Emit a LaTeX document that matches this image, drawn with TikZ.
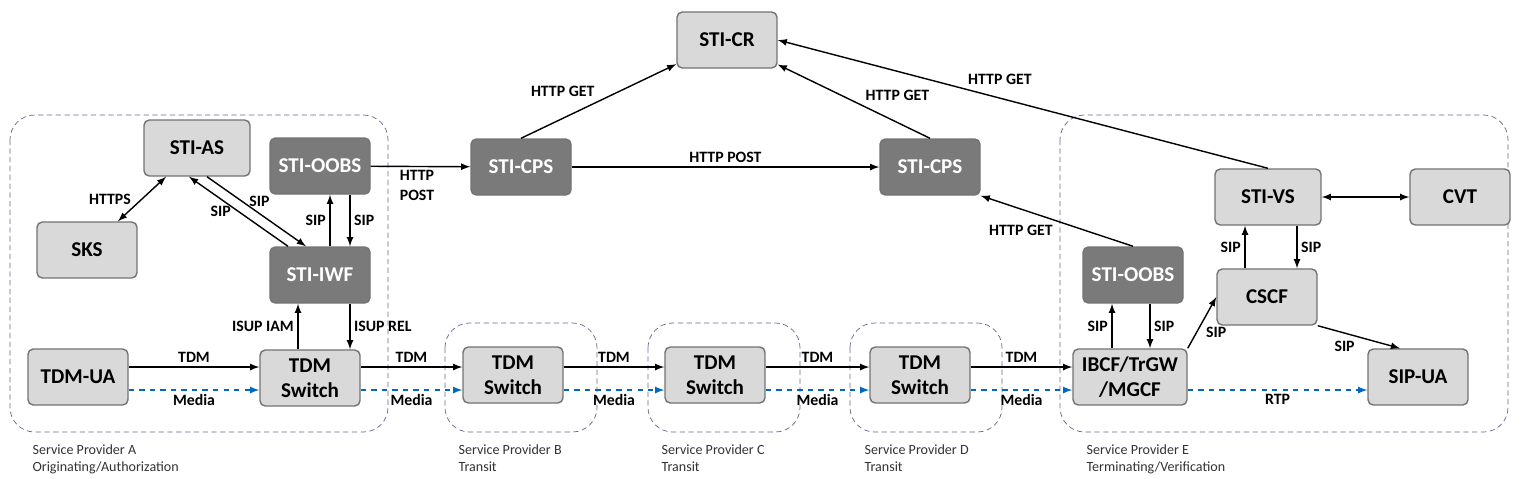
\documentclass[tikz,border=0pt]{standalone}
\usepackage{fontspec}
\setmainfont{Carlito}
\usetikzlibrary{calc,positioning}
\colorlet{boxgray}{black!15}
\colorlet{darkgray}{black!52}
\colorlet{mediablue}{blue!45!cyan!75!black}
\tikzset{
	box/.style={draw=black!55,fill=boxgray,rounded corners=3pt,minimum width=100*0.02cm,minimum height=56*0.02cm,font=\bfseries\large,align=center,inner sep=1pt},
	dbox/.style={box,fill=darkgray,text=white},
	sp/.style={draw=blue!30!black!60,thin,dash pattern=on 3pt off 2pt,rounded corners=14pt},
	lbl/.style={font=\bfseries\small,inner sep=2pt},
	spl/.style={font=\footnotesize,align=left,anchor=north west,text=black!80},
	>=latex
}
\begin{document}
\begin{tikzpicture}[x=0.02cm,y=-0.02cm,thick]
\useasboundingbox (0,0) rectangle (1524,478);
% service providers
\draw[sp] (10,115) rectangle (388,432);
\draw[sp] (445,323) rectangle (597,432);
\draw[sp] (648,323) rectangle (800,432);
\draw[sp] (850,323) rectangle (1002,432);
\draw[sp] (1060,115) rectangle (1508,432);
\node[spl] at (26,438) {Service Provider A\\Originating/Authorization};
\node[spl] at (452,438) {Service Provider B\\Transit};
\node[spl] at (655,438) {Service Provider C\\Transit};
\node[spl] at (858,438) {Service Provider D\\Transit};
\node[spl] at (1080,438) {Service Provider E\\Terminating/Verification};
% nodes
\node[box] (cr) at (727,40) {STI-CR};
\node[box,minimum width=106*0.02cm] (as) at (197,148) {STI-AS};
\node[box] (sks) at (87,250) {SKS};
\node[dbox] (oobsA) at (320,166) {STI-OOBS};
\node[dbox] (iwf) at (320,275) {STI-IWF};
\node[box] (ua) at (78,377) {TDM-UA};
\node[box] (swA) at (310,378) {TDM\\Switch};
\node[dbox] (cpsL) at (521,167) {STI-CPS};
\node[dbox] (cpsR) at (930,167) {STI-CPS};
\node[box] (swB) at (513,375) {TDM\\Switch};
\node[box] (swC) at (715,375) {TDM\\Switch};
\node[box] (swD) at (920,375) {TDM\\Switch};
\node[dbox] (oobsE) at (1133,275) {STI-OOBS};
\node[box,minimum width=114*0.02cm] (ibcf) at (1130,377) {IBCF/TrGW\\/MGCF};
\node[box,minimum width=106*0.02cm] (vs) at (1268,197) {STI-VS};
\node[box] (cvt) at (1460,197) {CVT};
\node[box] (cscf) at (1267,297) {CSCF};
\node[box] (sipua) at (1418,377) {SIP-UA};
% top signalling
\draw[<->] (as) -- node[lbl,left=4pt] {HTTPS} (sks);
\draw[<-] ($(as.south)+(-8,0)$) -- node[lbl,left=2pt] {SIP} ($(iwf.north)+(-32,0)$);
\draw[->] ($(as.south)+(10,0)$) -- node[lbl,right=2pt,pos=0.35] {SIP} ($(iwf.north)+(-14,0)$);
\draw[->] ($(iwf.north)+(10,0)$) -- node[lbl,left] {SIP} ($(oobsA.south)+(10,0)$);
\draw[->] ($(oobsA.south)+(30,0)$) -- node[lbl,right] {SIP} ($(iwf.north)+(30,0)$);
\draw[->] (oobsA) -- node[lbl,below,align=left,xshift=-2pt] {HTTP\\POST} (cpsL);
\draw[->] (cpsL) -- node[lbl,above] {HTTP POST} (cpsR);
\draw[->] (cpsL.north) -- node[lbl,above left] {HTTP GET} (cr);
\draw[->] (cpsR.north) -- node[lbl,above right,pos=0.45] {HTTP GET} (cr);
\draw[->] (vs.north) -- node[lbl,above right,pos=0.62] {HTTP GET} (cr.east);
\draw[->] (oobsE.north) -- node[lbl,below left,pos=0.5] {HTTP GET} (cpsR.south east);
% ISUP
\draw[->] ($(swA.north)+(-12,0)$) -- node[lbl,left] {ISUP IAM} ($(iwf.south)+(-22,0)$);
\draw[->] ($(iwf.south)+(30,0)$) -- node[lbl,right] {ISUP REL} ($(swA.north)+(40,0)$);
% bearer chain
\foreach \a/\b in {ua/swA,swA/swB,swB/swC,swC/swD,swD/ibcf}{
	\draw[->] (\a.east |- 0,367) -- node[lbl,above] {TDM} (\b.west |- 0,367);
	\draw[->,mediablue,dashed] (\a.east |- 0,390) -- node[lbl,below,text=black] {Media} (\b.west |- 0,390);
}
\draw[->,mediablue,dashed] (ibcf.east |- 0,390) -- node[lbl,below,text=black] {RTP} (sipua.west |- 0,390);
% terminating side
\draw[->] ($(ibcf.north)+(-18,0)$) -- node[lbl,left] {SIP} ($(oobsE.south)+(-21,0)$);
\draw[->] ($(oobsE.south)+(17,0)$) -- node[lbl,right] {SIP} ($(ibcf.north)+(20,0)$);
\draw[->] (ibcf.north east) -- node[lbl,below right] {SIP} (cscf.west);
\draw[->] ($(cscf.north)+(-22,0)$) -- node[lbl,left] {SIP} ($(vs.south)+(-23,0)$);
\draw[->] ($(vs.south)+(29,0)$) -- node[lbl,right] {SIP} ($(cscf.north)+(30,0)$);
\draw[<->] (vs) -- (cvt);
\draw[->] (cscf.south east) -- node[lbl,below left] {SIP} ($(sipua.north)+(-18,0)$);
\end{tikzpicture}
\end{document}
